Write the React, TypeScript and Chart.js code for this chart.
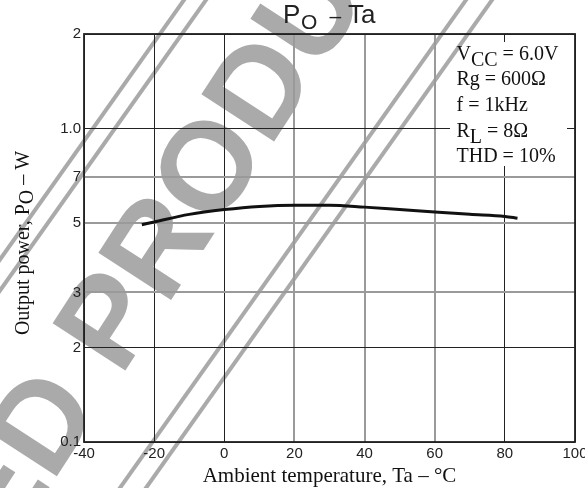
import React, { useEffect, useRef } from "react";
import { Chart, registerables } from "chart.js";

Chart.register(...registerables);

// Output power vs ambient temperature (VCC = 6.0V, RL = 8Ω, THD = 10%)
const temperatures = [-23.5, -20, -10, 0, 10, 20, 30, 40, 50, 60, 70, 80, 83.6];
const outputPower = [0.493, 0.503, 0.532, 0.551, 0.564, 0.569, 0.569, 0.561, 0.551, 0.541, 0.532, 0.524, 0.517];

const xTickValues = [-40, -20, 0, 20, 40, 60, 80, 100];
const yTickValues = [0.1, 0.2, 0.3, 0.5, 0.7, 1, 2];
const yTickLabels = ["0.1", "2", "3", "5", "7", "1.0", "2"];

// grid lines printed in full black; the rest come out lighter grey
const darkXGrid = [-40, -20, 0, 80, 100];
const darkYGrid = [0.1, 0.2, 1, 2];

type Seg = { t: string; sub?: boolean };
const conditionLines: Seg[][] = [
  [{ t: "V" }, { t: "CC", sub: true }, { t: " = 6.0V" }],
  [{ t: "Rg = 600Ω" }],
  [{ t: "f = 1kHz" }],
  [{ t: "R" }, { t: "L", sub: true }, { t: " = 8Ω" }],
  [{ t: "THD = 10%" }],
];

const WATERMARK_TEXT = "DISCONTINUED PRODUCT";
const WM_COLOR = "#aaaaaa";
const SANS = "'Liberation Sans', Arial, sans-serif";
const SERIF = "'Liberation Serif', 'Times New Roman', serif";

function drawWatermark(ctx: CanvasRenderingContext2D) {
  ctx.save();
  ctx.fillStyle = WM_COLOR;
  ctx.strokeStyle = WM_COLOR;
  ctx.lineWidth = 4;
  const slope = 1.41;
  for (const x0 of [184, 206, 466, 492]) {
    ctx.beginPath();
    ctx.moveTo(x0 + 20 / slope, -20);
    ctx.lineTo(x0 - 620 / slope, 620);
    ctx.stroke();
  }
  ctx.font = `bold 126px ${SANS}`;
  const lead = ctx.measureText("DISCONTINUED PR").width + ctx.measureText("O").width / 2;
  ctx.translate(205, 165);
  ctx.rotate((-57 * Math.PI) / 180);
  ctx.textBaseline = "alphabetic";
  ctx.fillText(WATERMARK_TEXT, -lead, 126 * 0.358);
  ctx.restore();
}

const pagePlugin = {
  id: "pageDecor",
  beforeDraw(chart: Chart) {
    const ctx = chart.ctx;
    ctx.save();
    ctx.fillStyle = "#ffffff";
    ctx.fillRect(0, 0, chart.width, chart.height);
    ctx.restore();
    drawWatermark(ctx);
  },
  beforeDatasetsDraw(chart: Chart) {
    const ctx = chart.ctx;
    const a = chart.chartArea;
    ctx.save();
    // plot frame
    ctx.strokeStyle = "#222";
    ctx.lineWidth = 1.8;
    ctx.strokeRect(a.left, a.top, a.right - a.left, a.bottom - a.top);

    // conditions box
    const bx = 450, by = 42, bw = 117, bh = 124;
    ctx.fillStyle = "#ffffff";
    ctx.fillRect(bx, by, bw, bh);
    ctx.save();
    ctx.beginPath();
    ctx.rect(bx, by, bw, bh);
    ctx.clip();
    drawWatermark(ctx);
    ctx.restore();

    ctx.fillStyle = "#111";
    ctx.font = `20px ${SERIF}`;
    ctx.textBaseline = "alphabetic";
    ctx.textAlign = "left";
    const baselines = [60, 85, 111, 137, 162];
    conditionLines.forEach((line, i) => {
      let x = 456.5;
      for (const seg of line) {
        ctx.fillText(seg.t, x, baselines[i] + (seg.sub ? 5.5 : 0));
        x += ctx.measureText(seg.t).width;
      }
    });
    ctx.restore();
  },
  afterDraw(chart: Chart) {
    const ctx = chart.ctx;
    const a = chart.chartArea;
    ctx.save();
    ctx.fillStyle = "#222";
    ctx.textBaseline = "alphabetic";
    ctx.textAlign = "left";

    // title: PO – Ta
    ctx.font = `26px ${SANS}`;
    ctx.fillText("P", 283, 23.3);
    ctx.font = `21px ${SANS}`;
    ctx.fillText("O", 301, 28.5);
    ctx.fillText("–", 329.5, 23.3);
    ctx.font = `26px ${SANS}`;
    ctx.fillText("Ta", 348, 23.3);

    // x axis title
    ctx.fillStyle = "#111";
    ctx.font = `21px ${SERIF}`;
    ctx.textAlign = "center";
    ctx.fillText("Ambient temperature, Ta – °C", (a.left + a.right) / 2, 482);

    // y axis title, rotated
    const segs: Seg[] = [{ t: "Output power, P" }, { t: "O", sub: true }, { t: " – W" }];
    ctx.font = `20px ${SERIF}`;
    ctx.textAlign = "left";
    const total = segs.reduce((s, g) => s + ctx.measureText(g.t).width, 0);
    ctx.translate(29, 243);
    ctx.rotate(-Math.PI / 2);
    let x = -total / 2;
    for (const seg of segs) {
      ctx.fillText(seg.t, x, seg.sub ? 4 : 0);
      x += ctx.measureText(seg.t).width;
    }
    ctx.restore();
  },
};

export default function App() {
  const ref = useRef<HTMLCanvasElement>(null);

  useEffect(() => {
    const canvas = ref.current;
    if (!canvas) return;
    const chart = new Chart(canvas, {
      type: "line",
      data: {
        datasets: [
          {
            data: temperatures.map((t, i) => ({ x: t, y: outputPower[i] })),
            borderColor: "#111",
            borderWidth: 3,
            pointRadius: 0,
            tension: 0.4,
            cubicInterpolationMode: "monotone",
            fill: false,
          },
        ],
      },
      options: {
        animation: false,
        responsive: false,
        devicePixelRatio: 1,
        layout: { padding: { left: 0, right: 10, top: 34, bottom: 0 } },
        plugins: {
          legend: { display: false },
          title: { display: false },
          tooltip: { enabled: false },
        },
        scales: {
          x: {
            type: "linear",
            min: -40,
            max: 100,
            afterBuildTicks: (scale: any) => {
              scale.ticks = xTickValues.map((v) => ({ value: v }));
            },
            afterFit: (scale: any) => {
              scale.height = 46;
              scale.paddingLeft = 0;
              scale.paddingRight = 0;
            },
            ticks: {
              autoSkip: false,
              maxRotation: 0,
              padding: 3,
              color: "#222",
              font: { family: SANS, size: 15 },
              callback: (v: any) => String(v),
            },
            grid: {
              drawTicks: false,
              color: (c: any) => (darkXGrid.includes(c.tick?.value) ? "#222" : "#9a9a9a"),
              lineWidth: (c: any) => (darkXGrid.includes(c.tick?.value) ? 1 : 2),
            },
            border: { display: false },
          },
          y: {
            type: "logarithmic",
            min: 0.1,
            max: 2,
            afterBuildTicks: (scale: any) => {
              scale.ticks = yTickValues.map((v) => ({ value: v }));
            },
            afterFit: (scale: any) => {
              scale.width = 84;
              scale.paddingTop = 0;
              scale.paddingBottom = 0;
            },
            ticks: {
              autoSkip: false,
              padding: 3,
              color: "#222",
              font: { family: SANS, size: 15 },
              callback: (v: any) => {
                const i = yTickValues.indexOf(Number(v));
                return i >= 0 ? yTickLabels[i] : "";
              },
            },
            grid: {
              drawTicks: false,
              color: (c: any) => (darkYGrid.includes(c.tick?.value) ? "#222" : "#9a9a9a"),
              lineWidth: (c: any) => (darkYGrid.includes(c.tick?.value) ? 1 : 2),
            },
            border: { display: false },
          },
        },
      },
      plugins: [pagePlugin],
    } as any);
    return () => chart.destroy();
  }, []);

  return (
    <div style={{ position: "absolute", left: 0, top: 0, width: 585, height: 488, background: "#fff" }}>
      <canvas ref={ref} width={585} height={488} style={{ display: "block", width: 585, height: 488 }} />
    </div>
  );
}
